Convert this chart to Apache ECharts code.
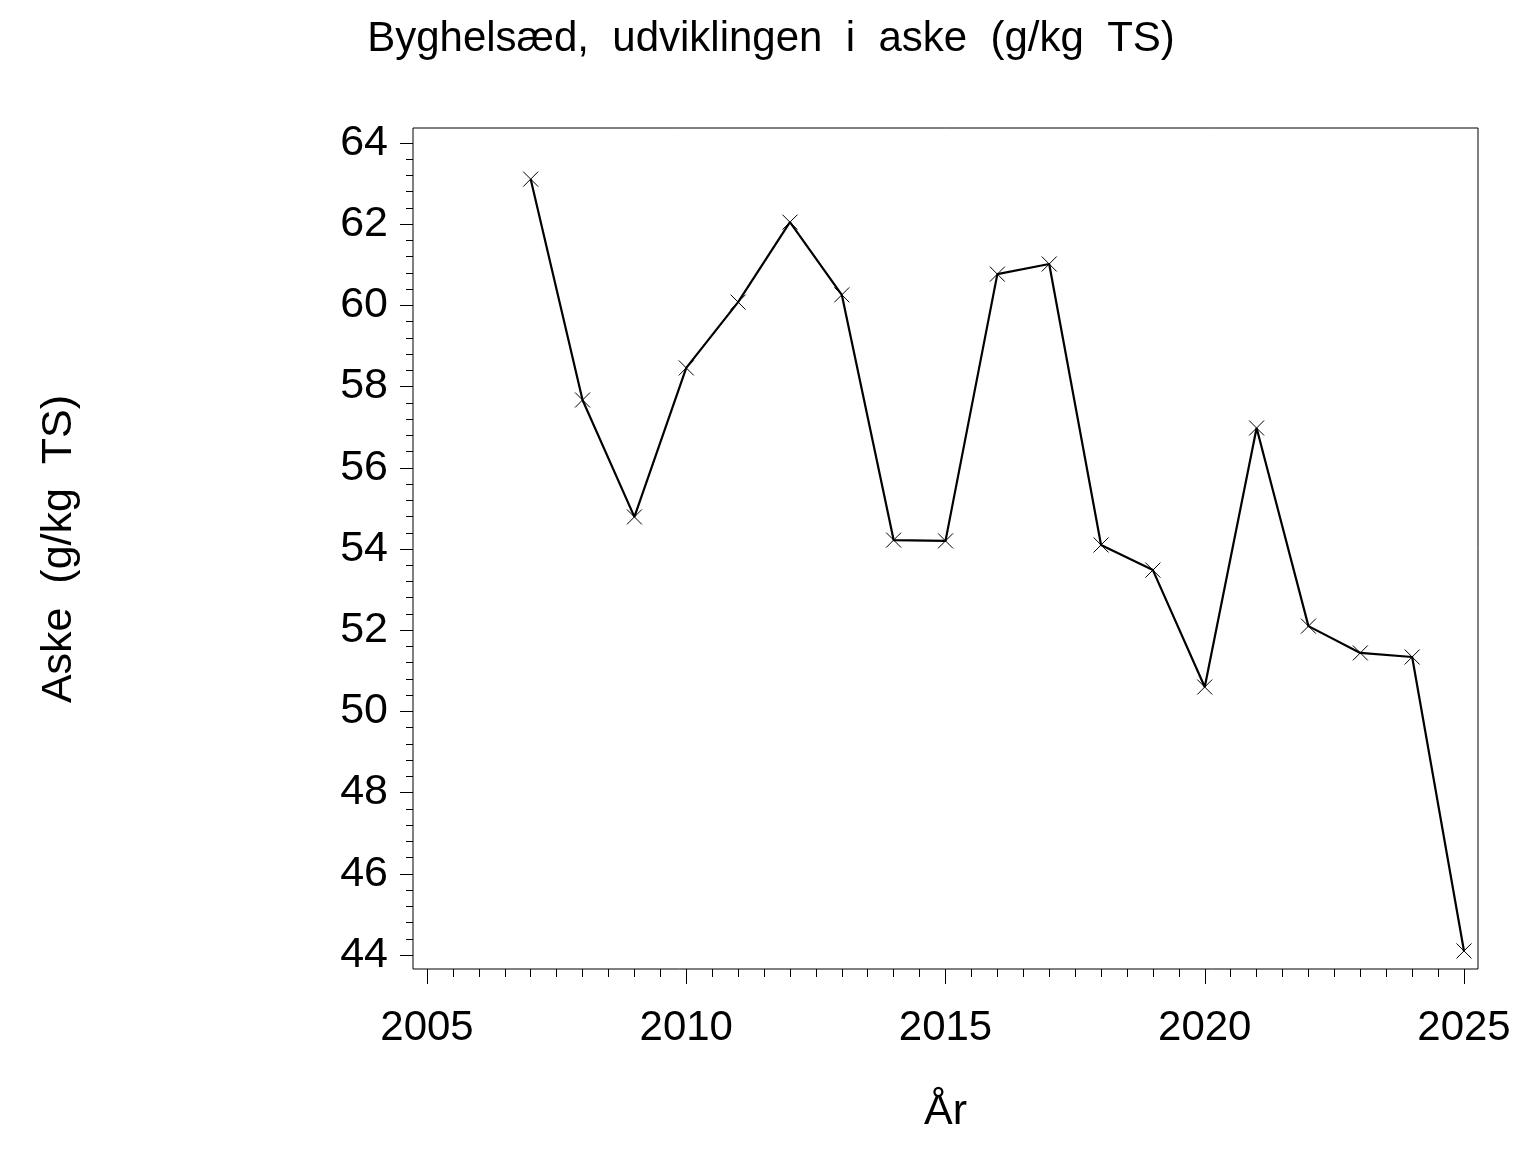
<!DOCTYPE html>
<html><head><meta charset="utf-8">
<script src="https://cdn.jsdelivr.net/npm/echarts@6/dist/echarts.min.js"></script>
<style>html,body{margin:0;padding:0;background:#fff}#c{width:1536px;height:1152px}</style>
</head><body><div id="c"></div>
<script>
const years = [2007,2008,2009,2010,2011,2012,2013,2014,2015,2016,2017,2018,2019,2020,2021,2022,2023,2024,2025];
const aske = [63.11,57.67,54.79,58.46,60.08,62.05,60.26,54.22,54.20,60.77,61.02,54.10,53.48,50.60,56.98,52.10,51.44,51.34,44.10];
const titleText = 'Byghelsæd,  udviklingen  i  aske  (g/kg  TS)';
const yName = 'Aske  (g/kg  TS)';
const xName = 'År';
const FONT = '"Liberation Sans", Arial, sans-serif';

const chart = echarts.init(document.getElementById('c'), null, {renderer:'canvas'});
chart.setOption({
  backgroundColor:'#fff',
  animation:false,
  title:{text:titleText, left:766, textAlign:'center', top:13,
    textStyle:{fontFamily:FONT, fontSize:42, fontWeight:'normal', color:'#000'}},
  grid:[
    {left:427, right:72, top:143, bottom:197},
    {left:413, right:58, top:128, bottom:183, show:true, borderColor:'#000', borderWidth:1, backgroundColor:'transparent'}
  ],
  xAxis:[
    {type:'value', gridIndex:0, min:2005, max:2025, interval:5, offset:14,
     name:xName, nameLocation:'middle', nameGap:122,
     nameTextStyle:{fontFamily:FONT, fontSize:43, color:'#000'},
     axisLine:{show:false},
     axisTick:{show:true, inside:false, length:15, lineStyle:{color:'#000', width:1}},
     minorTick:{show:true, splitNumber:10, length:8, lineStyle:{color:'#000', width:1}},
     splitLine:{show:false},
     axisLabel:{margin:38, fontFamily:FONT, fontSize:42, color:'#000', formatter:v=>String(v)}},
    {type:'value', gridIndex:1, show:false, min:0, max:1}
  ],
  yAxis:[
    {type:'value', gridIndex:0, min:44, max:64, interval:2, offset:14,
     name:yName, nameLocation:'middle', nameGap:332, nameRotate:90,
     nameTextStyle:{fontFamily:FONT, fontSize:43, color:'#000'},
     axisLine:{show:false},
     axisTick:{show:true, inside:false, length:13, lineStyle:{color:'#000', width:1}},
     minorTick:{show:true, splitNumber:5, length:7, lineStyle:{color:'#000', width:1}},
     splitLine:{show:false},
     axisLabel:{margin:25, fontFamily:FONT, fontSize:43, color:'#000'}},
    {type:'value', gridIndex:1, show:false, min:0, max:1}
  ],
  series:[{
    type:'line', xAxisIndex:0, yAxisIndex:0,
    data: years.map((y,i)=>[y, aske[i]]),
    symbol:'path://M0,0L10,10M10,0L0,10', symbolSize:15, showAllSymbol:true,
    lineStyle:{color:'#000', width:2.2},
    itemStyle:{color:'transparent', borderColor:'#000', borderWidth:1},
    z:3
  }]
});
</script></body></html>
